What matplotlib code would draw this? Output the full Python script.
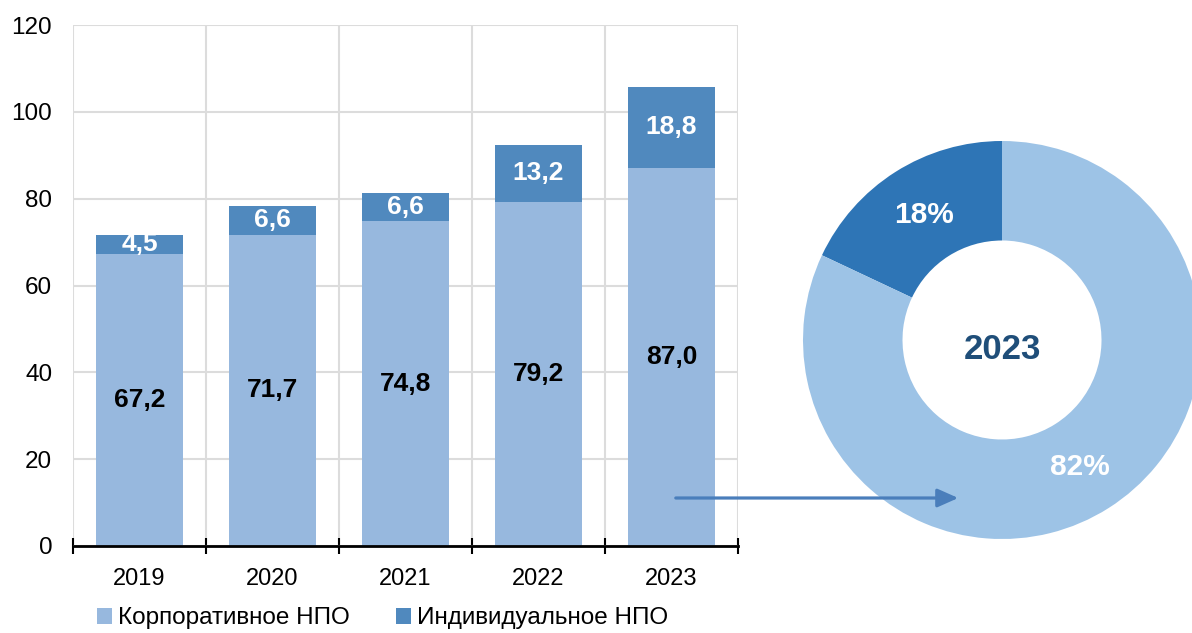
import matplotlib.pyplot as plt
import numpy as np

plt.rcParams['font.family'] = ['Liberation Sans', 'DejaVu Sans']

years = ['2019', '2020', '2021', '2022', '2023']
corporate = [67.2, 71.7, 74.8, 79.2, 87.0]
individual = [4.5, 6.6, 6.6, 13.2, 18.8]
series_names = ['Корпоративное НПО', 'Индивидуальное НПО']
share_2023 = [18, 82]
share_labels = ['18%', '82%']

light = '#97B8DE'
dark = '#5089BE'

fig = plt.figure(figsize=(11.92, 6.33), dpi=100)

# bar chart
ax = fig.add_axes([73 / 1192, 1 - 546 / 633, 665 / 1192, 521 / 633])
x = np.arange(len(years))
b1 = ax.bar(x, corporate, 0.66, color=light, label=series_names[0], zorder=2)
b2 = ax.bar(x, individual, 0.66, bottom=corporate, color=dark, label=series_names[1], zorder=2)

for i in range(len(years)):
    ax.text(x[i], corporate[i] / 2, f'{corporate[i]:.1f}'.replace('.', ','),
            ha='center', va='center', fontsize=19, fontweight='bold', color='black', zorder=3)
    ax.text(x[i], corporate[i] + individual[i] / 2, f'{individual[i]:.1f}'.replace('.', ','),
            ha='center', va='center', fontsize=19, fontweight='bold', color='white', zorder=3)

ax.set_xlim(-0.5, len(years) - 0.5)
ax.set_ylim(0, 120)
ax.set_yticks(range(0, 121, 20))
ax.set_xticks(x)
ax.set_xticklabels(years)
ax.set_xticks(np.arange(-0.5, len(years), 1), minor=True)
ax.grid(axis='y', color='#DCDCDC', linewidth=1.5, zorder=0)
ax.grid(axis='x', which='minor', color='#DCDCDC', linewidth=1.5, zorder=0)
ax.tick_params(axis='y', length=0, labelsize=17.5, pad=15)
ax.tick_params(axis='x', which='major', length=0, labelsize=17, pad=16)
ax.tick_params(axis='x', which='minor', length=12, width=1.5, direction='inout', color='black')
for s in ['top', 'right', 'left']:
    ax.spines[s].set_visible(False)
ax.spines['bottom'].set_linewidth(2)
ax.spines['bottom'].set_zorder(4)

fig.legend(handles=[b1, b2], loc='center', bbox_to_anchor=(0.321, 0.023), ncol=2, frameon=False,
           fontsize=17.5, handlelength=0.6, handleheight=0.6, handletextpad=0.25, columnspacing=1.9)

# donut for 2023
ax2 = fig.add_axes([803 / 1192, 1 - 539 / 633, 398 / 1192, 398 / 633])
wedges, _ = ax2.pie(share_2023, colors=['#2E75B6', '#9DC3E6'], startangle=90, counterclock=True,
                    radius=1, wedgeprops=dict(width=0.5, linewidth=0))
for w in wedges:
    w.set_clip_on(False)
ax2.set_xlim(-1, 1)
ax2.set_ylim(-1, 1)
ax2.set_aspect('equal')
ax2.axis('off')
ax2.text(-0.39, 0.63, share_labels[0], ha='center', va='center', fontsize=21.5, fontweight='bold', color='white')
ax2.text(0.39, -0.64, share_labels[1], ha='center', va='center', fontsize=21.5, fontweight='bold', color='white')
ax2.text(0, -0.05, '2023', ha='center', va='center', fontsize=25, fontweight='bold', color='#1F4E79')

# arrow from the 2023 bar to the donut
fig.add_artist(plt.matplotlib.patches.FancyArrowPatch(
    (673 / 1192, 1 - 498 / 633), (961 / 1192, 1 - 498 / 633), transform=fig.transFigure,
    arrowstyle='-|>,head_length=0.9,head_width=0.4', mutation_scale=14, color='#4A7EBB', linewidth=2.3))

plt.savefig('out.png', dpi=100)
